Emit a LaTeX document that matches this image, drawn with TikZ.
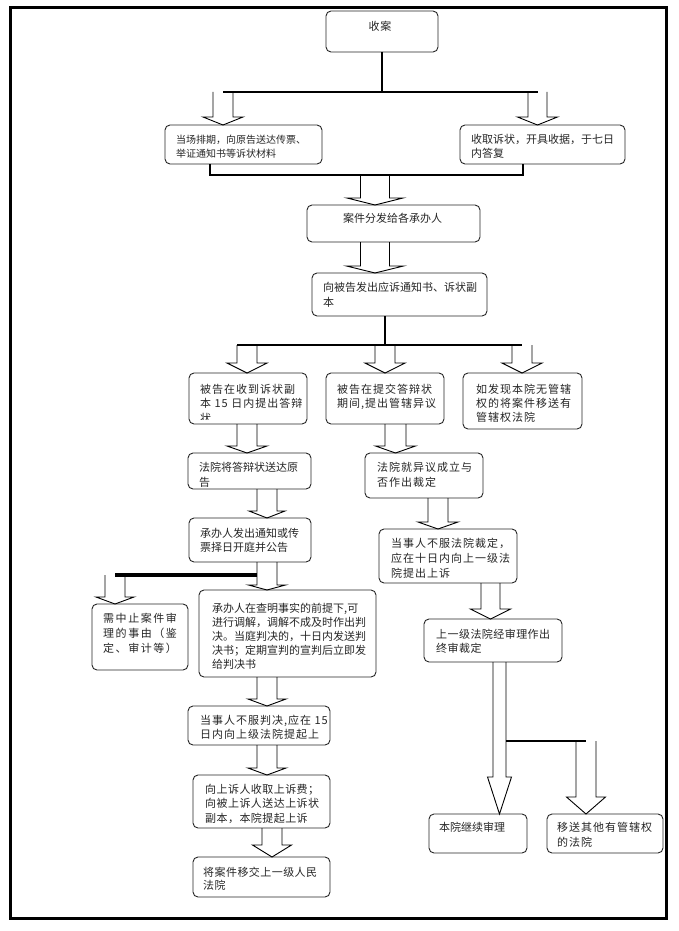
\documentclass[tikz,border=0pt]{standalone}
\usepackage{fontspec}
\newfontfamily\cjk{Noto Sans CJK SC}
\newfontfamily\cjks[LetterSpace=4]{Noto Sans CJK SC}
\newfontfamily\cjksp[LetterSpace=9]{Noto Sans CJK SC}
\newfontfamily\cjkspp[LetterSpace=14]{Noto Sans CJK SC}
\usetikzlibrary{calc}
\tikzset{
  box/.style={draw=black!85, line width=0.9pt, rounded corners=5pt, anchor=north west, inner sep=0pt, outer sep=0pt},
  txt/.style={anchor=north west, inner sep=0pt, align=left, text=black!85},
  f11/.style={font=\cjk\fontsize{11}{14.5}\selectfont},
  fs/.style={font=\cjks\fontsize{11}{14.5}\selectfont},
  fsp/.style={font=\cjksp\fontsize{11}{14.5}\selectfont},
  fspp/.style={font=\cjkspp\fontsize{11}{15}\selectfont},
  hollow/.style={draw=black, line width=0.9pt, line join=miter},
  conn/.style={draw=black, line width=2.5pt},
}
\newcommand{\bx}[5]{\node[box, minimum width={(#4-#2)*1pt}, minimum height={(#5-#3)*1pt}] (#1) at (#2,#3) {};}
% start coordinate, target node, head length, shaft half width, head half width
\newcommand{\harrow}[5]{%
  \draw[hollow] ($(#1)+(-#4,0)$) -- ($(#1 |- #2.north)+(-#4,-#3)$) -- ($(#1 |- #2.north)+(-#5,-#3)$)
    -- (#1 |- #2.north) -- ($(#1 |- #2.north)+(#5,-#3)$) -- ($(#1 |- #2.north)+(#4,-#3)$) -- ($(#1)+(#4,0)$);}
\begin{document}
\begin{tikzpicture}[x=1pt,y=-1pt]
\useasboundingbox (0,0) rectangle (679,931);
\fill[white] (0,0) rectangle (679,931);
\draw[line width=3pt] (10,8) rectangle (666,918);

% boxes
\bx{S}{326}{11}{438}{52}
\bx{L1}{165}{125}{322}{164}
\bx{R1}{460}{125}{625}{164}
\bx{B2}{307}{205}{480}{242}
\bx{B3}{312}{273}{487}{316}
\bx{A}{189}{373}{307}{424}
\bx{B}{326}{373}{444}{424}
\bx{C}{463}{373}{582}{429}
\bx{D}{188}{453}{311}{489}
\bx{E}{365}{453}{483}{498}
\bx{F}{189}{518}{311}{562}
\bx{G}{92}{604}{188}{670}
\bx{H}{199}{590}{376}{677}
\bx{L}{379}{529}{517}{583}
\bx{M}{424}{619}{562}{662}
\bx{I}{188}{706}{330}{745}
\bx{J}{193}{775}{330}{828}
\bx{K}{193}{857}{330}{897}
\bx{N}{429}{814}{527}{853}
\bx{O}{547}{814}{663}{853}

% texts
\node[txt, fsp, anchor=center] (St) at ($(S.north)+(-2,15)$) {收案};
\node[txt, font=\cjk\fontsize{10}{13.5}\selectfont] (L1t) at ($(L1.north west)+(11,10)$) {当场排期，向原告送达传票、\\举证通知书等诉状材料};
\node[txt, f11, font=\cjk\fontsize{11}{14}\selectfont] (R1t) at ($(R1.north west)+(11,9)$) {收取诉状，开具收据，于七日\\内答复};
\node[txt, f11] (B2t) at ($(B2.north west)+(36,8)$) {案件分发给各承办人};
\node[txt, font=\cjk\fontsize{11}{15}\selectfont] (B3t) at ($(B3.north west)+(11,9)$) {向被告发出应诉通知书、诉状副\\本};
\begin{scope}
  \clip (189,373) rectangle (307,419);
  \node[txt, fsp] (At) at ($(A.north west)+(11,11)$) {被告在收到诉状副\\本 15 日内提出答辩\\状};
\end{scope}
\node[txt, font=\cjksp\fontsize{11}{13.5}\selectfont] (Bt) at ($(B.north west)+(11,11)$) {被告在提交答辩状\\期间,提出管辖异议};
\node[txt, font=\cjksp\fontsize{11}{14}\selectfont] (Ct) at ($(C.north west)+(13,11)$) {如发现本院无管辖\\权的将案件移送有\\管辖权法院};
\node[txt, font=\cjk\fontsize{11}{15}\selectfont] (Dt) at ($(D.north west)+(11,9)$) {法院将答辩状送达原\\告};
\node[txt, font=\cjksp\fontsize{11}{15}\selectfont] (Et) at ($(E.north west)+(12,9)$) {法院就异议成立与\\否作出裁定};
\node[txt, font=\cjk\fontsize{11}{14}\selectfont] (Ft) at ($(F.north west)+(11,10)$) {承办人发出通知或传\\票择日开庭并公告};
\node[txt, fspp] (Gt) at ($(G.north west)+(11,9)$) {需中止案件审\\理的事由（鉴\\定、审计等）};
\node[txt, font=\cjk\fontsize{11}{14}\selectfont] (Ht) at ($(H.north west)+(13,13)$) {承办人在查明事实的前提下,可\\进行调解，调解不成及时作出判\\决。当庭判决的，十日内发送判\\决书；定期宣判的宣判后立即发\\给判决书};
\node[txt, font=\cjksp\fontsize{11}{15}\selectfont] (Lt) at ($(L.north west)+(12,9)$) {当事人不服法院裁定，\\应在十日内向上一级法\\院提出上诉};
\node[txt, font=\cjks\fontsize{11}{13.5}\selectfont] (Mt) at ($(M.north west)+(12,10)$) {上一级法院经审理作出\\终审裁定};
\node[txt, font=\cjksp\fontsize{11}{14}\selectfont] (It) at ($(I.north west)+(12,9)$) {当事人不服判决,应在 15\\日内向上级法院提起上};
\node[txt, fs] (Jt) at ($(J.north west)+(12,9)$) {向上诉人收取上诉费；\\向被上诉人送达上诉状\\副本，本院提起上诉};
\node[txt, font=\cjks\fontsize{11}{13}\selectfont] (Kt) at ($(K.north west)+(10,10)$) {将案件移交上一级人民\\法院};
\node[txt, f11] (Nt) at ($(N.north west)+(10,8)$) {本院继续审理};
\node[txt, font=\cjksp\fontsize{11}{15}\selectfont] (Ot) at ($(O.north west)+(10,8)$) {移送其他有管辖权\\的法院};

% junction coordinates
\coordinate (j1) at (382,92);
\coordinate (s1) at (223,92);
\coordinate (s2) at (537.5,92);
\coordinate (c1) at (210,175);
\coordinate (c2) at (523,175);
\coordinate (s3) at (375,175);
\coordinate (s4) at (375,242);
\coordinate (j3) at (385,345);
\coordinate (h3) at (237,345);
\coordinate (s5) at (247,345);
\coordinate (s6) at (385,345);
\coordinate (s7) at (522,345);
\coordinate (s8) at (247,424);
\coordinate (s9) at (395.5,424);
\coordinate (s10) at (267,489);
\coordinate (s11) at (438,498);
\coordinate (s12) at (267,562);
\coordinate (s13) at (115,575);
\coordinate (h13) at (257,575);
\coordinate (s14) at (267,677);
\coordinate (s15) at (267,745);
\coordinate (s16) at (272,828);
\coordinate (s17) at (490.5,583);
\coordinate (s18) at (499.5,662);
\coordinate (j19) at (506,741);
\coordinate (s19) at (586,741);

% thick connectors
\draw[conn] (S.south) -- (j1);
\draw[conn] (s1) -- (s2);
\draw[conn] (c1 |- L1.south) -- (c1) -- (c2) -- (c2 |- R1.south);
\draw[conn] (j3 |- B3.south) -- (j3);
\draw[conn] (h3) -- (s7);
\draw[conn, line width=3.5pt] (s13) -- (h13);
\draw[conn, line width=2pt] (j19) -- (s19);

% hollow arrows
\harrow{s1}{L1}{8}{10}{20}
\harrow{s2}{R1}{8}{9.5}{20}
\harrow{s3}{B2}{7}{14.5}{28}
\harrow{s4}{B3}{7}{14.5}{28.5}
\harrow{s5}{A}{10}{10}{20}
\harrow{s6}{B}{10}{10}{20}
\harrow{s7}{C}{10}{10}{20}
\harrow{s8}{D}{7}{10}{20}
\harrow{s9}{E}{7}{10.5}{20}
\harrow{s10}{F}{7}{10}{18}
\harrow{s11}{L}{7}{10}{20}
\harrow{s12}{H}{5}{10}{18.5}
\harrow{s13}{G}{7}{10}{19}
\harrow{s14}{I}{7}{10}{19}
\harrow{s15}{J}{7}{10}{19}
\harrow{s16}{K}{12}{10}{19.5}
\harrow{s17}{M}{10}{9.5}{20}
\harrow{s18}{N}{37}{6.5}{12}
\harrow{s19}{O}{17}{10}{19.5}
\end{tikzpicture}
\end{document}
